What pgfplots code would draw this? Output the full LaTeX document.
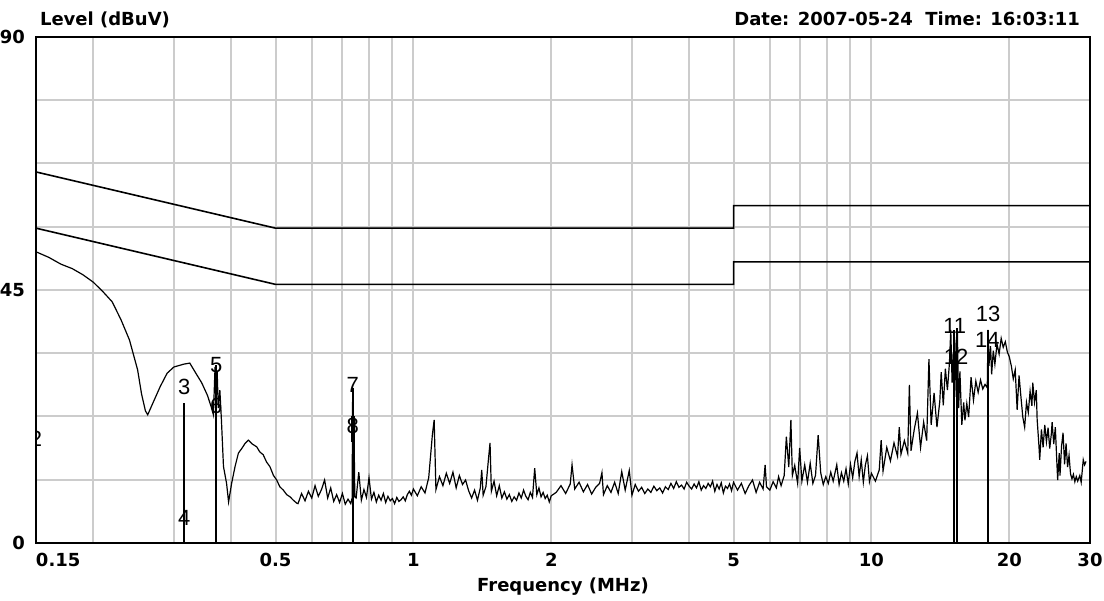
\documentclass[border=0pt]{standalone}
\usepackage{fontspec}
\setmainfont{DejaVu Sans}
\newfontfamily\mkfont{Liberation Sans}
\usepackage{pgfplots}
\pgfplotsset{compat=1.18}
\definecolor{gridgray}{RGB}{204,204,204}

\begin{document}
\begin{tikzpicture}
\begin{axis}[
  scale only axis, width=527pt, height=253pt,
  xmode=log, xmin=0.15, xmax=30, ymin=0, ymax=90,
  xtick={0.15,0.5,1,2,5,10,20,30},
  xticklabels={\makebox[0pt][l]{0.15},0.5,1,2,5,10,20,30},
  minor xtick={0.2,0.3,0.4,0.6,0.7,0.8,0.9,3,4,6,7,8,9},
  ytick={0,45,90}, yticklabels={0,45,90},
  minor ytick={11.25,22.5,33.75,56.25,67.5,78.75},
  grid=both,
  major grid style={gridgray, line width=1pt},
  minor grid style={gridgray, line width=1pt},
  major tick length=0pt, minor tick length=0pt,
  tick label style={font=\fontsize{9}{10}\selectfont\bfseries},
  xticklabel style={yshift=-1.5pt},
  yticklabel style={xshift=-2pt},
  axis line style={line width=1pt},
]
% limit lines (QP and AV)
\addplot[black, line width=0.8pt] coordinates {(0.15,66) (0.5,56) (5,56) (5,60) (30,60)};
\addplot[black, line width=0.8pt] coordinates {(0.15,56) (0.5,46) (5,46) (5,50) (30,50)};

% measured trace
\addplot[black, line width=0.6pt] coordinates {
(0.150,51.8) (0.160,50.8) (0.170,49.6) (0.180,48.8) (0.190,47.7) (0.200,46.4) (0.210,44.7)
(0.220,42.9) (0.230,39.7) (0.240,36.1) (0.250,30.8) (0.255,26.5) (0.260,23.5) (0.263,22.8)
(0.270,24.9) (0.280,27.8) (0.290,30.2) (0.300,31.3) (0.315,31.8) (0.325,32.0) (0.335,30.2)
(0.345,28.5) (0.355,26.3) (0.362,24.2) (0.366,22.8) (0.369,31.3) (0.371,25.0) (0.373,30.5)
(0.375,24.0) (0.378,27.2) (0.381,21.9) (0.385,13.6) (0.391,10.6) (0.395,7.3) (0.401,10.6)
(0.408,13.6) (0.415,16.0) (0.422,16.8) (0.429,17.7) (0.436,18.3) (0.445,17.6) (0.455,17.1)
(0.462,16.2) (0.470,15.7) (0.478,14.4) (0.486,13.6) (0.495,12.0) (0.503,11.2) (0.511,10.0)
(0.520,9.4) (0.529,8.6) (0.538,8.2) (0.547,7.6) (0.556,7.1)
(0.56,7.0) (0.57,8.8) (0.58,7.5) (0.59,9.2) (0.60,8.0) (0.61,10.2) (0.62,8.3) (0.63,9.5)
(0.64,11.2) (0.65,8.0) (0.66,9.8) (0.67,7.4) (0.68,8.6) (0.69,7.2) (0.70,8.8) (0.71,6.9)
(0.72,7.8) (0.73,7.0) (0.735,8.0) (0.737,27.6) (0.739,8.5) (0.742,20.0) (0.745,8.2)
(0.75,8.0) (0.76,12.6) (0.77,7.6) (0.78,9.5) (0.79,8.1) (0.80,11.6) (0.81,7.8) (0.82,9.0)
(0.83,7.3) (0.84,8.5) (0.85,7.6) (0.86,8.8) (0.87,7.2) (0.88,8.3) (0.89,7.5) (0.90,7.9)
(0.91,7.0) (0.92,8.1) (0.93,7.4) (0.94,7.7) (0.95,8.2) (0.96,7.5) (0.97,8.6) (0.98,9.2)
(0.99,8.5) (1.00,9.6)
(1.02,8.4) (1.04,10.0) (1.06,8.9) (1.08,11.6) (1.10,19.2) (1.11,21.9) (1.12,9.5) (1.14,11.8)
(1.16,10.2) (1.18,12.4) (1.20,10.6) (1.22,12.6) (1.24,9.8) (1.26,12.0) (1.28,10.4) (1.30,11.2)
(1.32,9.3) (1.34,8.0) (1.36,9.4) (1.38,7.6) (1.40,9.8) (1.41,13.0) (1.42,8.5) (1.44,10.0)
(1.46,15.3) (1.47,17.8) (1.48,9.2) (1.50,11.0) (1.52,8.4) (1.54,10.2) (1.56,8.0) (1.58,9.1)
(1.60,7.8) (1.62,8.6) (1.64,7.4) (1.66,8.2) (1.68,7.6) (1.70,8.9) (1.72,8.0) (1.74,9.4)
(1.76,8.3) (1.78,7.7) (1.80,9.0) (1.82,8.1) (1.84,13.3) (1.86,8.6) (1.88,9.8) (1.90,8.2)
(1.92,9.0) (1.94,7.9) (1.96,8.5) (1.98,7.3) (2.00,8.4)
(2.05,9.0) (2.10,10.2) (2.15,8.8) (2.20,10.5) (2.22,13.9) (2.25,9.6) (2.30,10.8) (2.35,9.1)
(2.40,10.4) (2.45,8.7) (2.50,9.9) (2.55,10.6) (2.58,12.5) (2.60,8.6) (2.65,10.2) (2.70,9.0)
(2.75,10.8) (2.80,8.8) (2.85,12.7) (2.90,9.4) (2.96,12.9) (3.00,8.5) (3.05,10.4) (3.10,9.2)
(3.15,9.9) (3.20,8.8) (3.25,9.6) (3.30,9.0) (3.35,10.1) (3.40,9.3) (3.45,9.8) (3.50,8.9)
(3.55,10.0) (3.60,9.5) (3.65,10.6) (3.70,9.7) (3.75,10.9) (3.80,9.9) (3.85,10.3) (3.90,9.6)
(3.95,10.8) (4.00,10.1) (4.05,9.6) (4.10,10.5) (4.15,9.8) (4.20,10.9) (4.25,9.4) (4.30,10.2)
(4.35,9.7) (4.40,10.6) (4.45,10.0) (4.50,11.0) (4.55,9.2) (4.60,10.4) (4.65,9.6) (4.70,10.7)
(4.75,8.9) (4.80,10.1) (4.85,9.7) (4.90,10.5) (4.95,9.3) (5.00,10.8)
(5.1,9.4) (5.2,10.6) (5.3,8.8) (5.4,10.2) (5.5,11.2) (5.6,9.0) (5.7,10.8) (5.8,9.6)
(5.86,13.9) (5.9,10.0) (6.0,9.4) (6.1,10.9) (6.2,9.8) (6.27,11.8) (6.35,10.2) (6.45,12.0)
(6.52,18.9) (6.6,13.5) (6.67,21.9) (6.72,12.0) (6.8,13.8) (6.9,10.6) (6.97,16.9) (7.05,11.0)
(7.15,13.9) (7.25,10.8) (7.35,14.2) (7.45,10.6) (7.55,12.0) (7.65,19.2) (7.75,12.5) (7.85,10.4)
(7.95,11.8) (8.05,10.6) (8.15,12.6) (8.25,11.0) (8.4,13.9) (8.5,10.4) (8.6,12.5) (8.7,11.0)
(8.8,13.2) (8.9,10.5) (9.0,14.0) (9.1,11.6) (9.2,14.5) (9.3,16.0) (9.4,11.8) (9.5,14.8)
(9.6,10.8) (9.7,13.9) (9.8,15.5) (9.9,10.9) (10.0,12.4)
(10.2,11.0) (10.4,13.0) (10.5,18.3) (10.6,12.8) (10.8,17.0) (11.0,14.6) (11.2,17.8) (11.4,15.4)
(11.5,20.6) (11.6,15.8) (11.8,18.2) (12.0,16.0) (12.1,28.1) (12.2,16.4) (12.4,20.2) (12.6,23.1)
(12.8,17.0) (13.0,21.5) (13.2,18.2) (13.35,32.7) (13.5,21.0) (13.7,26.7) (13.9,20.6) (14.1,25.2)
(14.2,30.4) (14.35,24.5) (14.5,31.0) (14.65,27.2) (14.8,32.0) (14.9,37.9) (15.0,28.5) (15.1,34.0)
(15.2,26.0) (15.3,35.5) (15.4,38.2) (15.5,24.0) (15.6,30.5) (15.75,21.0) (15.9,25.0) (16.0,21.8)
(16.15,24.8) (16.3,22.4) (16.5,29.5) (16.7,25.4) (16.9,28.8) (17.1,26.8) (17.3,29.0) (17.5,27.4)
(17.7,28.2) (17.9,27.6) (17.97,37.9) (18.05,31.5) (18.2,35.0) (18.3,30.0) (18.45,34.2) (18.6,31.8)
(18.8,35.4) (19.0,33.6) (19.2,36.4) (19.4,34.8) (19.6,35.8) (19.8,34.0) (20.0,33.1)
(20.2,31.5) (20.4,29.2) (20.6,30.8) (20.8,23.7) (21.0,29.8) (21.2,26.0) (21.4,22.4) (21.6,20.6)
(21.8,25.0) (22.0,23.2) (22.2,27.0) (22.4,24.4) (22.5,28.5) (22.7,25.0) (22.9,27.2) (23.0,22.0)
(23.2,17.5) (23.3,14.8) (23.5,20.2) (23.7,17.0) (23.9,21.0) (24.1,18.0) (24.3,20.5) (24.5,16.8)
(24.7,19.4) (24.8,21.5) (25.0,17.6) (25.2,20.6) (25.4,14.2) (25.5,11.2) (25.7,16.0) (25.8,12.0)
(26.0,17.2) (26.2,19.6) (26.4,14.0) (26.6,17.7) (26.8,13.5) (27.0,15.6) (27.2,12.3) (27.4,11.4)
(27.6,12.2) (27.8,10.9) (28.0,11.8) (28.2,11.0) (28.5,12.0) (28.7,10.8) (29.0,14.8) (29.2,13.9)
(29.4,14.5)
};

% marker lines
\addplot[black, line width=0.9pt] coordinates {(0.316,0) (0.316,24.9)};
\addplot[black, line width=0.9pt] coordinates {(0.371,0) (0.371,31.7)};
\addplot[black, line width=0.9pt] coordinates {(0.737,0) (0.737,27.6)};
\addplot[black, line width=2pt] coordinates {(0.737,18.0) (0.737,22.5)};
\addplot[black, line width=0.9pt] coordinates {(15.15,0) (15.15,37.9)};
\addplot[black, line width=0.9pt] coordinates {(15.36,0) (15.36,38.2)};
\addplot[black, line width=0.9pt] coordinates {(18.0,0) (18.0,37.9)};

% marker numbers
\begin{scope}[every node/.style={font=\mkfont\fontsize{11}{12}\selectfont, inner sep=0pt}]
\node at (axis cs:0.150,18.5) {2};
\node at (axis cs:0.316,27.8) {3};
\node at (axis cs:0.316,4.4) {4};
\node at (axis cs:0.371,31.7) {5};
\node at (axis cs:0.371,24.4) {6};
\node at (axis cs:0.737,28.1) {7};
\node at (axis cs:0.737,20.8) {8};
\node at (axis cs:15.2,38.6) {11};
\node at (axis cs:15.3,33.1) {12};
\node at (axis cs:17.97,40.7) {13};
\node at (axis cs:17.9,36.1) {14};
\end{scope}
\end{axis}

\node[anchor=base west, font=\fontsize{9}{10}\selectfont\bfseries]
  at ([xshift=-1.5pt, yshift=6pt]current axis.north west) {Level (dBuV)};
\node[anchor=base east, font=\fontsize{9}{10}\selectfont\bfseries]
  at ([xshift=-1.5pt, yshift=6pt]current axis.north east) {Date: 2007-05-24\ \ Time: 16:03:11};
\node[anchor=base, font=\fontsize{9}{10}\selectfont\bfseries]
  at ([yshift=-24.5pt]current axis.south) {Frequency (MHz)};

\pgfresetboundingbox
\path[use as bounding box] ([xshift=-18pt, yshift=-29pt]current axis.south west)
  rectangle ([xshift=7pt, yshift=18.5pt]current axis.north east);
\end{tikzpicture}
\end{document}
